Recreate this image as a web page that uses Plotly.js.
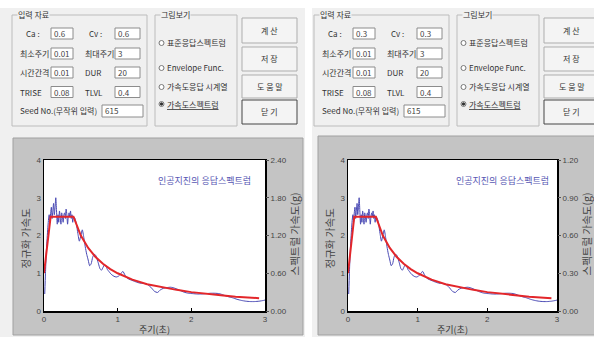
<!DOCTYPE html>
<html><head><meta charset="utf-8">
<script src="https://cdn.plot.ly/plotly-3.0.1.min.js"></script>
<style>html,body{margin:0;padding:0;background:#fff;}#chart{width:594px;height:337px;}</style>
</head><body><div id="chart"></div>
<script>
// ---------- data ----------
const periodBlue = [0.01,0.02,0.03,0.04,0.05,0.06,0.07,0.08,0.09,0.10,0.11,0.12,0.13,0.14,0.15,0.16,0.17,0.18,0.19,0.20,
  0.21,0.22,0.23,0.24,0.25,0.26,0.27,0.28,0.29,0.30,0.31,0.32,0.33,0.34,0.35,0.36,0.37,0.38,0.39,0.40,
  0.42,0.44,0.46,0.48,0.50,0.52,0.54,0.56,0.58,0.60,0.62,0.64,0.66,0.68,0.70,0.72,0.74,0.76,0.78,0.80,
  0.82,0.84,0.86,0.88,0.90,0.92,0.95,0.98,1.01,1.04,1.07,1.10,1.13,1.17,1.21,1.25,1.30,1.35,1.40,1.45,
  1.50,1.54,1.58,1.62,1.67,1.72,1.78,1.84,1.90,1.96,2.02,2.08,2.14,2.20,2.26,2.32,2.38,2.44,2.50,2.56,
  2.62,2.68,2.74,2.80,2.86,2.92,2.98,3.00];
const normAccBlue = [0.45,1.0,1.5,1.85,2.15,2.4,2.55,2.35,2.6,2.75,2.45,2.65,2.85,2.55,2.75,3.0,2.65,2.3,2.55,2.35,
  2.65,2.5,2.3,2.6,2.5,2.35,2.55,2.6,2.45,2.7,2.55,2.3,2.5,2.6,2.5,2.65,2.45,2.55,2.35,2.5,
  2.45,2.3,2.05,1.85,2.0,2.15,1.95,1.7,1.5,1.35,1.2,1.25,1.42,1.5,1.48,1.38,1.25,1.12,1.08,1.15,
  1.22,1.2,1.1,1.05,1.0,0.96,0.92,0.9,0.92,0.98,1.05,0.95,0.87,0.83,0.8,0.77,0.74,0.73,0.71,0.63,
  0.52,0.49,0.56,0.6,0.62,0.63,0.6,0.55,0.5,0.47,0.46,0.45,0.45,0.46,0.47,0.47,0.46,0.42,0.38,0.35,
  0.31,0.28,0.26,0.25,0.25,0.26,0.28,0.29];
const periodTarget = [0,0.09,0.4,0.45,0.5,0.6,0.7,0.8,0.9,1.0,1.2,1.4,1.6,1.8,2.0,2.2,2.4,2.6,2.8,2.92];
const normAccTarget = [1.0,2.5,2.5,2.22,2.0,1.67,1.43,1.25,1.11,1.0,0.83,0.71,0.63,0.56,0.5,0.45,0.42,0.38,0.36,0.34];

const xTicks = [0,1,2,3];
const leftTicks = [0,1,2,3,4];
const rightTickValsA = [0,0.6,1.2,1.8,2.4];
const rightTickTextA = ["0.00","0.60","1.20","1.80","2.40"];
const rightTickValsB = [0,0.3,0.6,0.9,1.2];
const rightTickTextB = ["0.00","0.30","0.60","0.90","1.20"];

const caVals = ["0.6","0.3"];
const cvVals = ["0.6","0.3"];
const tminVals = ["0.01","0.01"];
const tmaxVals = ["3","3"];
const dtVals = ["0.01","0.01"];
const durVals = ["20","20"];
const triseVals = ["0.08","0.08"];
const tlvlVals = ["0.4","0.4"];
const seedVals = ["615","615"];
const radioLabels = ["표준응답스펙트럼","Envelope Func.","가속도응답 시계열","가속도스펙트럼"];
const buttonLabels = ["계 산","저 장","도 움 말","닫 기"];

// ---------- helpers ----------
const W=594,H=337;
const FONT='"Noto Sans CJK KR","Liberation Sans",sans-serif';
const NUMFONT='"Liberation Sans Narrow","Liberation Sans",sans-serif';
const px=x=>x/W, py=y=>1-y/H;
const shapes=[], annotations=[];
function rect(x0,y0,x1,y1,fill,lc,lw){
  shapes.push({type:'rect',xref:'paper',yref:'paper',x0:px(x0),x1:px(x1),y0:py(y1),y1:py(y0),
    fillcolor:fill||'rgba(0,0,0,0)',line:{color:lc||'rgba(0,0,0,0)',width:lw==null?1:lw},layer:'below'});
}
function circ(cx,cy,r,fill,lc){
  shapes.push({type:'circle',xref:'paper',yref:'paper',x0:px(cx-r),x1:px(cx+r),y0:py(cy+r),y1:py(cy-r),
    fillcolor:fill,line:{color:lc,width:1},layer:'below'});
}
function txt(x,y,s,size,color,anchor,extra){
  annotations.push(Object.assign({xref:'paper',yref:'paper',x:px(x),y:py(y),text:s,showarrow:false,
    xanchor:anchor||'left',yanchor:'middle',borderpad:0,font:{family:FONT,size:size||8,color:color||'#333'}},extra||{}));
}

// ---------- window backgrounds ----------
rect(0,0,594,8,'#ffffff');
rect(305,0,312,337,'#ffffff');

function dialog(i,ox,panel,plot){
  // group box 1
  rect(12+ox,15,147+ox,126,null,'#bcbcbc',1);
  txt(17+ox,15,'입력 자료',8,'#333','left',{bgcolor:'#f0f0f0'});
  const rows=[33.5,53.5,72.5,92,111];
  const L1=['Ca :','최소주기','시간간격','TRISE'];
  const L2=['Cv :','최대주기','DUR','TLVL'];
  const V1=[caVals[i],tminVals[i],dtVals[i],triseVals[i]];
  const V2=[cvVals[i],tmaxVals[i],durVals[i],tlvlVals[i]];
  for(let k=0;k<4;k++){
    const y=rows[k];
    txt((k==0?25:19)+ox,y,L1[k],8,'#333');
    txt((k==0?88:84)+ox,y,L2[k],8,'#333');
    rect(51+ox,y-5.5,73+ox,y+5.5,'#ffffff','#8c8c8c',1);
    rect(115+ox,y-5.5,140+ox,y+5.5,'#ffffff','#8c8c8c',1);
    txt(53+ox,y,V1[k],8,'#444');
    txt(117+ox,y,V2[k],8,'#444');
  }
  txt(19+ox,rows[4],'Seed No.(무작위 입력)',8,'#333');
  rect(102+ox,rows[4]-6,143+ox,rows[4]+6,'#ffffff','#8c8c8c',1);
  txt(104+ox,rows[4],seedVals[i],8,'#444');
  // group box 2
  rect(155+ox,15,237+ox,126,null,'#bcbcbc',1);
  txt(160+ox,15,'그림보기',8,'#333','left',{bgcolor:'#f0f0f0'});
  const ry=[43,68,87,104];
  for(let k=0;k<4;k++){
    circ(161.5+ox,ry[k],2.5,'#ffffff','#777');
    txt(166+ox,ry[k],k==3?'<u>'+radioLabels[k]+'</u>':radioLabels[k],8,'#333');
  }
  circ(161.5+ox,ry[3],1.2,'#333','#333');
  // buttons
  const by=[[18,43],[47,71],[75,98],[100,124]];
  for(let k=0;k<4;k++){
    rect(242+ox,by[k][0],297+ox,by[k][1],'#f4f4f4',k==3?'#444':'#adadad',1);
    txt(269.5+ox,(by[k][0]+by[k][1])/2,buttonLabels[k],8,'#333','center');
  }
  // chart panel
  rect(panel[0],panel[1],panel[2],panel[3],'#c4c4c4','#a0a0a0',1);
  rect(plot[0],plot[1],plot[2],plot[3],'#ffffff');
  const cx=(plot[0]+plot[2])/2, cy=(plot[1]+plot[3])/2;
  txt(plot[0]-19,cy+3,'정규화 가속도',10.5,'#444','center',{textangle:-90});
  txt(plot[2]+29,cy-1,'스펙트럴 가속도(g)',10.5,'#444','center',{textangle:-90});
  txt(cx,plot[3]+18,'주기(초)',9,'#333','center');
  txt(cx+50,180,'인공지진의 응답스펙트럼',9,'#5757b3','center');
}
const plotA=[44,160,265,311], plotB=[348,160,557,311];
dialog(0,0,[13,138,303,335],plotA);
dialog(1,302,[318,136,600,335],plotB);

// ---------- axes ----------
const tf={family:NUMFONT,size:8,color:'#444'};
function xa(d,anchor){return {domain:[px(d[0]),px(d[2])],anchor:anchor,range:[0,3],tickvals:xTicks,ticks:'inside',ticklen:3,tickcolor:'#000',
  showline:true,linecolor:'#000',linewidth:1.5,mirror:true,showgrid:false,zeroline:false,tickfont:tf,automargin:false,fixedrange:true};}
function ya(d,anchor){return {domain:[py(d[3]),py(d[1])],anchor:anchor,range:[0,4],tickvals:leftTicks,ticks:'',
  showline:true,linecolor:'#000',linewidth:1.5,mirror:true,showgrid:false,zeroline:false,tickfont:tf,automargin:false,fixedrange:true};}
function yr(over,anchor,vals,text){return {overlaying:over,anchor:anchor,side:'right',range:[0,vals[vals.length-1]],tickvals:vals,ticktext:text,
  ticks:'outside',ticklen:3,tickcolor:'#555',showline:false,showgrid:false,zeroline:false,tickfont:tf,automargin:false,fixedrange:true};}

const blueStyle={color:'#4848b4',width:1,shape:'spline',smoothing:0.6};
const redStyle={color:'#e3262a',width:2};
const data=[
  {x:periodBlue,y:normAccBlue,xaxis:'x',yaxis:'y',mode:'lines',line:blueStyle,hoverinfo:'skip'},
  {x:periodTarget,y:normAccTarget,xaxis:'x',yaxis:'y',mode:'lines',line:redStyle,hoverinfo:'skip'},
  {x:[],y:[],xaxis:'x',yaxis:'y2',mode:'lines',hoverinfo:'skip'},
  {x:periodBlue,y:normAccBlue,xaxis:'x2',yaxis:'y3',mode:'lines',line:blueStyle,hoverinfo:'skip'},
  {x:periodTarget,y:normAccTarget,xaxis:'x2',yaxis:'y3',mode:'lines',line:redStyle,hoverinfo:'skip'},
  {x:[],y:[],xaxis:'x2',yaxis:'y4',mode:'lines',hoverinfo:'skip'}
];
const layout={
  width:W,height:H,autosize:false,margin:{l:0,r:0,t:0,b:0},
  paper_bgcolor:'#f0f0f0',plot_bgcolor:'rgba(0,0,0,0)',showlegend:false,
  xaxis:xa(plotA,'y'),yaxis:ya(plotA,'x'),yaxis2:yr('y','x',rightTickValsA,rightTickTextA),
  xaxis2:xa(plotB,'y3'),yaxis3:ya(plotB,'x2'),yaxis4:yr('y3','x2',rightTickValsB,rightTickTextB),
  shapes:shapes,annotations:annotations
};
Plotly.newPlot('chart',data,layout,{staticPlot:true,displayModeBar:false});
</script></body></html>
